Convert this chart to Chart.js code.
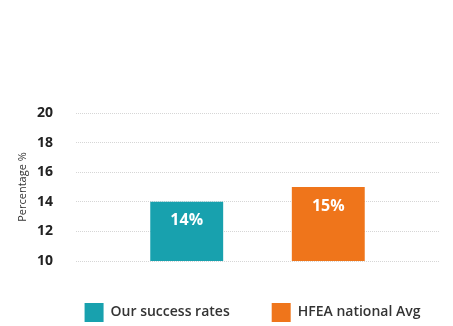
<!DOCTYPE html>
<html>
<head>
<meta charset="utf-8">
<script src="https://cdn.jsdelivr.net/npm/chart.js@4/dist/chart.umd.min.js"></script>
<style>
  body { margin: 0; background: #fff; }
  #wrap { width: 453px; height: 326px; }
</style>
</head>
<body>
<div id="wrap"><canvas id="myChart"></canvas></div>
<script>
const categories = [''];
const seriesNames = ['Our success rates', 'HFEA national Avg'];
const ourRates = [14];
const hfeaAvg = [15];
const seriesColors = ['#18a1ae', '#ef751b'];

// white value labels inside the top of each bar
const barLabels = {
  id: 'barLabels',
  afterDatasetsDraw(chart) {
    const ctx = chart.ctx;
    ctx.save();
    ctx.fillStyle = '#fff';
    ctx.font = 'bold 16px "Open Sans"';
    ctx.textAlign = 'center';
    ctx.textBaseline = 'middle';
    chart.data.datasets.forEach((ds, i) => {
      chart.getDatasetMeta(i).data.forEach((bar, j) => {
        ctx.fillText(ds.data[j] + '%', bar.x, bar.y + 19);
      });
    });
    ctx.restore();
  }
};

// legend sits a bit right of centre in the original
const legendShift = {
  id: 'legendShift',
  afterLayout(chart) {
    chart.legend.left += 33;
    chart.legend.right += 33;
  }
};

const config = {
  type: 'bar',
  data: {
    labels: categories,
    datasets: [{
      label: seriesNames[0],
      backgroundColor: seriesColors[0],
      data: ourRates,
    }, {
      label: seriesNames[1],
      backgroundColor: seriesColors[1],
      data: hfeaAvg,
    }]
  },
  options: {
    responsive: true,
    maintainAspectRatio: false,
    animation: false,
    categoryPercentage: 0.78,
    barPercentage: 0.515,
    layout: { padding: { top: 113, right: 14, bottom: -6, left: 0 } },
    plugins: {
      tooltip: { enabled: false },
      legend: {
        position: 'bottom',
        labels: {
          boxWidth: 19,
          boxHeight: 19,
          padding: 42,
          color: '#333',
          font: { family: 'Open Sans', size: 14, weight: '600' }
        }
      }
    },
    scales: {
      x: { display: false },
      y: {
        min: 10,
        max: 20,
        ticks: {
          stepSize: 2,
          padding: 23,
          color: '#222',
          font: { family: 'Open Sans', size: 14, weight: 'bold' }
        },
        grid: { color: '#d6d6d6', drawTicks: false },
        border: { display: false, dash: [1, 1] },
        title: {
          display: true,
          text: 'Percentage %',
          color: '#333',
          padding: { top: 16, bottom: 0 },
          font: { family: 'Open Sans', size: 11 }
        },
        afterFit(scale) { scale.width = 76; }
      }
    }
  },
  plugins: [barLabels, legendShift]
};

var myChart = new Chart(document.getElementById('myChart'), config);
</script>
</body>
</html>
